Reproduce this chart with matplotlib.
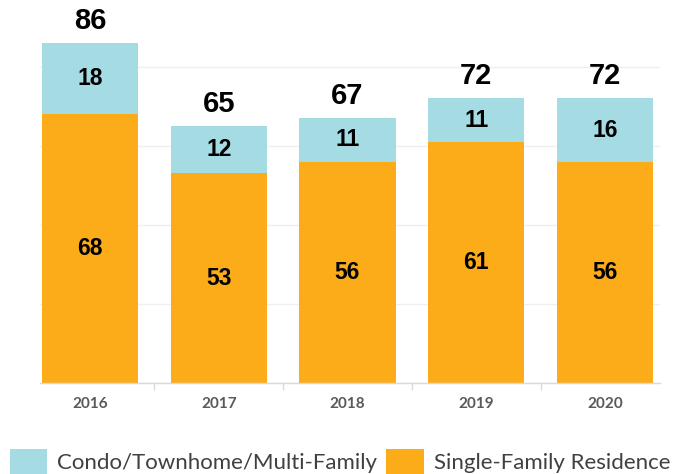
import matplotlib
matplotlib.use("Agg")
import matplotlib.pyplot as plt
from matplotlib.patches import Patch
from matplotlib.ticker import FixedLocator

years = ["2016", "2017", "2018", "2019", "2020"]
single_family = [68, 53, 56, 61, 56]
condo = [18, 12, 11, 11, 16]

orange = "#FBAC18"
blue = "#A5DCE4"

fig = plt.figure(figsize=(6.82, 4.74), dpi=100)
ax = fig.add_axes([40/682, 1 - 383/474, 620/682, 383/474])

x = list(range(len(years)))
totals = [a + b for a, b in zip(single_family, condo)]
w = 0.746
ax.bar(x, single_family, width=w, color=orange, zorder=2)
ax.bar(x, condo, width=w, bottom=single_family, color=blue, zorder=2)

num_font = ['Liberation Sans Narrow', 'Liberation Sans', 'DejaVu Sans']
for i in x:
    ax.text(i, single_family[i] / 2, str(single_family[i]), ha='center', va='center',
            fontsize=16.5, fontweight='bold', family=num_font, color='black', zorder=3)
    ax.text(i, single_family[i] + condo[i] / 2, str(condo[i]), ha='center', va='center',
            fontsize=16.5, fontweight='bold', family=num_font, color='black', zorder=3)
    ax.annotate(str(totals[i]), (i, totals[i]), xytext=(0, 16), textcoords='offset points',
                ha='center', va='center', fontsize=21, fontweight='bold',
                family=num_font, color='black', zorder=3)

ax.set_xlim(-50/128.75, (660-90)/128.75)
ax.set_ylim(0, 383/3.953)
ax.set_yticks([0, 20, 40, 60, 80])
ax.yaxis.grid(True, color='#EFEFEF', linewidth=1, zorder=0)
ax.tick_params(axis='y', left=False, labelleft=False)
ax.set_xticks(x)
ax.set_xticklabels(years, fontsize=11, fontweight='bold', family=['Lato', 'DejaVu Sans'], color='#595959')
ax.tick_params(axis='x', which='major', length=0, pad=10)
ax.xaxis.set_minor_locator(FixedLocator([0.5, 1.5, 2.5, 3.5]))
ax.tick_params(axis='x', which='minor', length=5, color='#D9D9D9', width=1)
for s in ['top', 'right', 'left']:
    ax.spines[s].set_visible(False)
ax.spines['bottom'].set_color('#D9D9D9')
ax.spines['bottom'].set_linewidth(1)

handles = [Patch(facecolor=blue, label='Condo/Townhome/Multi-Family'),
           Patch(facecolor=orange, label='Single-Family Residence')]
fig.legend(handles=handles, loc='center', bbox_to_anchor=(340/682, 1 - 462/474), ncol=2,
           frameon=False, prop={'family': ['Lato', 'DejaVu Sans'], 'size': 16},
           handlelength=1.7, handleheight=1.4, handletextpad=0.45, columnspacing=0.4,
           borderpad=0.2, labelcolor='#404040')

fig.savefig("out.png", dpi=100)
